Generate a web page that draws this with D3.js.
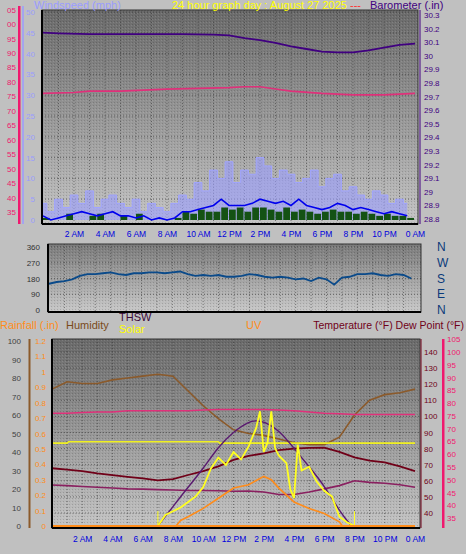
<!DOCTYPE html>
<html><head><meta charset="utf-8">
<script src="https://cdn.jsdelivr.net/npm/d3@7/dist/d3.min.js"></script>
<style>body{margin:0;background:#c0c0c0}svg{display:block;font-family:"Liberation Sans",Arial,sans-serif}</style>
</head><body><svg id="c" width="466" height="554"></svg>
<script>
// ---------- DATA ----------
const hourTicks = [2,4,6,8,10,12,14,16,18,20,22,24];
const hourLabels = ["2 AM","4 AM","6 AM","8 AM","10 AM","12 PM","2 PM","4 PM","6 PM","8 PM","10 PM","0 AM"];
const halfHours = d3.range(0,24,0.5);
const hours = d3.range(0,25,1);
const windTicks = [0,5,10,15,20,25,30,35,40,45,50];
const pinkTopTicks = [35,40,45,50,55,60,65,70,75,80,85,90,95,100,105];
const baroTicks = [28.8,28.9,29,29.1,29.2,29.3,29.4,29.5,29.6,29.7,29.8,29.9,30,30.1,30.2,30.3];
const baroHours = [0,1,3,6,9,11,12,13,14,15,16,17,18,19,20,21,22,23,24];
const baroVals  = [30.17,30.165,30.16,30.16,30.16,30.155,30.15,30.13,30.115,30.095,30.07,30.05,30.03,30.025,30.025,30.04,30.06,30.08,30.09];
const pinkTopHours = [0,2,3,5,8,12,13,14,15,16,18,20,22,24];
const pinkTopVals  = [76,76.3,76.8,76.8,77.5,78,78.3,78.3,77.5,76.8,76,75.5,75.5,76];
const gustVals = [4,2,5,3,6,4,7,3,5,6,4,3,5,2,4,3,2,4,6,5,9,7,12,10,14,9,12,11,15,13,10,12,11,9,10,12,8,10,11,7,8,6,5,7,6,4,5,4];
const windVals = [1,0,0.5,1,1.5,2,1.5,1,1.5,2,1,1,0.5,1,0,0.5,0,0.5,2,2,2.5,3,3.5,5,3.5,3.5,3.5,4,5,4.5,4,4.5,3.5,5,3.5,3,2.5,3,4,3.5,2.5,3,2.5,2,1.5,2,1.5,1];
const barVals  = [0.5,0,0,1.5,0,0,1,1.5,0,0,1,0,1.5,0,0,0,0,0.5,2,1.5,2.5,2,2,3,2.5,3,2,3,3,2.5,2,3,2,2.5,2,1.5,2,2.5,2,2,1.5,2,1.5,1,1.5,1,1,0.5];
const dirTicks = [0,90,180,270,360];
const dirLetters = ["N","W","S","E","N"];
const dirVals = [150,160,165,175,195,205,205,210,215,205,200,210,210,215,215,210,215,220,205,195,200,195,200,190,190,195,205,200,190,185,190,185,175,180,165,185,175,145,185,190,205,205,210,200,195,205,200,180];
const humTicks = [0,10,20,30,40,50,60,70,80,90,100];
const rainTicks = [0,0.1,0.2,0.3,0.4,0.5,0.6,0.7,0.8,0.9,1,1.1,1.2];
const tempTicks = [40,50,60,70,80,90,100,110,120,130,140];
const dewTicks = [35,40,45,50,55,60,65,70,75,80,85,90,95,100,105];
const humVals  = [74,78,77,77,79,80,81,82,81,73,65,58,52,50,49,47,45,44,44,48,60,68,71,72,74];
const tempVals = [67.8,67,66,64.6,63.5,62.5,61.5,60.3,61,63.6,66,69,73,75.5,77,79,80,80.5,80.6,78,74.5,72.5,71.5,69,66];
const heatVals = [57.4,57,56.5,56,55.5,55,54.8,54.5,54.3,54,54,53.8,53.5,53.7,53,51.5,51.5,53,55,57,60,59,58.5,57.5,56];
const dewVals  = [76,76,76.3,76.5,76.5,77,77,77,77,77,77.3,77.5,77.5,77.5,77.5,77.3,77,76.5,76,75.8,75.5,75.5,75.5,75.5,75.5];
const flatHours = [0,1,1.1,11,11.1,24];
const flatVals  = [83.4,83.4,84.3,84.3,83.4,83.4];
const thswHours = [7,8,9,10,11,12,13,13.5,14,15,16,17,18,19,19.8];
const thswVals  = [0,10.5,21,31,43,51,56.5,57,56.5,52,42,32,22,8,0];
const solarHours = [7,7.5,8,8.5,9,9.5,10,10.5,11,11.5,12,12.5,13,13.5,13.75,14,14.25,14.5,14.75,15,15.5,15.75,16,16.25,16.5,17,17.5,18,18.5,19,19.5,20];
const solarVals  = [0,6,8,10,13,16,21,31,37,33,40,36,43,53,62,40,45,62,42,38,34,20,15,44,30,32,24,19,16,5,2,0];
const uvHours = [8.2,8.5,9,10,11,12,13,14,14.5,15,16,17,18,19,19.2];
const uvVals  = [0,3,5,9.5,15,20.5,22.3,26.8,25,20.5,13,9.5,6.7,2.3,0];

// ---------- DRAW ----------
const svg = d3.select("#c");
const defs = svg.append("defs");
function grad(id, c1, c2){
  const g = defs.append("linearGradient").attr("id",id).attr("x1",0).attr("x2",0).attr("y1",0).attr("y2",1);
  g.append("stop").attr("offset","0%").attr("stop-color",c1);
  g.append("stop").attr("offset","100%").attr("stop-color",c2);
}
grad("gTop","#6a6a6a","#c4c4c4");
grad("gMid","#7a7a7a","#c8c8c8");
grad("gBot","#6a6a6a","#c4c4c4");
const pat = defs.append("pattern").attr("id","dith").attr("width",3).attr("height",3).attr("patternUnits","userSpaceOnUse");
pat.append("rect").attr("width",1).attr("height",1).attr("fill","#000").attr("opacity",0.15);
pat.append("rect").attr("x",2).attr("y",1).attr("width",1).attr("height",1).attr("fill","#fff").attr("opacity",0.12);

function panel(x0,x1,y0,y1,gid){
  svg.append("rect").attr("x",x0).attr("y",y0).attr("width",x1-x0).attr("height",y1-y0).attr("fill",`url(#${gid})`);
  svg.append("rect").attr("x",x0).attr("y",y0).attr("width",x1-x0).attr("height",y1-y0).attr("fill","url(#dith)");
}
function frame(x0,x1,y0,y1){
  svg.append("rect").attr("x",x0).attr("y",y0).attr("width",x1-x0).attr("height",y1-y0).attr("fill","none").attr("stroke","#333").attr("stroke-width",1);
  svg.append("line").attr("x1",x0).attr("x2",x0).attr("y1",y0).attr("y2",y1).attr("stroke","#000").attr("stroke-width",2);
  svg.append("line").attr("x1",x0).attr("x2",x1).attr("y1",y1).attr("y2",y1).attr("stroke","#000").attr("stroke-width",2);
}
function grid(x, ys, xL, xR, yT, yB){
  const g = svg.append("g").attr("stroke","#3a3a3a").attr("stroke-dasharray","1,2").attr("opacity",0.6);
  d3.range(1,24).forEach(h=>g.append("line").attr("x1",x(h)).attr("x2",x(h)).attr("y1",yT).attr("y2",yB));
  ys.forEach(y=>g.append("line").attr("x1",xL).attr("x2",xR).attr("y1",y).attr("y2",y));
}
function xAxis(x, y, color){
  const ax = d3.axisBottom(x).tickValues(hourTicks).tickFormat((d,i)=>hourLabels[i]).tickSize(0).tickPadding(4);
  const g = svg.append("g").attr("transform",`translate(0,${y})`).call(ax);
  g.select(".domain").remove();
  g.selectAll("text").attr("fill",color).attr("font-size",8.5).attr("font-family","Liberation Sans, Arial");
}
function yLabels(scale, ticks, x, color, anchor, fmt){
  const ax = (anchor==="end"? d3.axisLeft(scale) : d3.axisRight(scale)).tickValues(ticks).tickSize(0).tickPadding(0).tickFormat(fmt||(d=>d));
  const g = svg.append("g").attr("transform",`translate(${x},0)`).call(ax);
  g.select(".domain").remove();
  g.selectAll("text").attr("fill",color).attr("font-size",8).attr("font-family","Liberation Sans, Arial");
  return g;
}
const ln = (x,y)=>d3.line().x(d=>x(d[0])).y(d=>y(d[1]));
const zip=(a,b)=>a.map((v,i)=>[v,b[i]]);

// ===== TOP PANEL =====
const tx = d3.scaleLinear().domain([0,24]).range([43,415]);
const wy = d3.scaleLinear().domain([0,50]).range([220,12]);
const py = d3.scaleLinear().domain([35,100]).range([212,24]);
const by = d3.scaleLinear().domain([28.8,30.3]).range([219,15]);
panel(42,418,10,224,"gTop");
grid(tx, windTicks.slice(1).map(wy), 42,418,10,224);
// gust
svg.append("path").datum(zip(halfHours,gustVals)).attr("d",d3.area().x(d=>tx(d[0])).y0(wy(0)).y1(d=>wy(d[1])).curve(d3.curveStep))
  .attr("fill","#9a9cff").attr("opacity",0.6);
svg.append("path").datum(zip(halfHours,gustVals)).attr("d",ln(tx,wy).curve(d3.curveStep)).attr("fill","none").attr("stroke","#a0a4ff").attr("stroke-width",1);
// green bars
svg.append("g").selectAll("rect").data(zip(halfHours,barVals)).join("rect")
  .attr("x",d=>tx(d[0])).attr("width",tx(0.5)-tx(0)-1).attr("y",d=>wy(d[1])).attr("height",d=>wy(0)-wy(d[1]))
  .attr("fill","#145214");
svg.append("path").datum(zip(halfHours,windVals)).attr("d",ln(tx,wy)).attr("fill","none").attr("stroke","#0000ee").attr("stroke-width",1.6);
svg.append("path").datum(zip(pinkTopHours,pinkTopVals)).attr("d",ln(tx,py)).attr("fill","none").attr("stroke","#e0307a").attr("stroke-width",1.6);
svg.append("path").datum(zip(baroHours,baroVals)).attr("d",ln(tx,by)).attr("fill","none").attr("stroke","#400080").attr("stroke-width",1.8);
frame(42,418,10,224);
xAxis(tx,227,"#0000dd");
// left axes
svg.append("rect").attr("x",18).attr("y",6).attr("width",2.5).attr("height",218).attr("fill","#f0186e");
svg.append("line").attr("x1",23).attr("x2",23).attr("y1",6).attr("y2",224).attr("stroke","#9a9cff").attr("stroke-width",1.5);
yLabels(py,pinkTopTicks,16,"#f0186e","end",d=>String(d).slice(-2));
yLabels(wy,windTicks,35,"#9a9cff","end");
svg.append("line").attr("x1",420).attr("x2",420).attr("y1",10).attr("y2",224).attr("stroke","#400080").attr("stroke-width",1);
yLabels(by,baroTicks,424,"#400080","start",d=>d3.format("")(+d.toFixed(1)));
svg.append("text").attr("x",34).attr("y",9).attr("fill","#9a9cff").attr("font-size",11).text("Windspeed (mph)");
svg.append("text").attr("x",370).attr("y",9).attr("fill","#400080").attr("font-size",11).text("Barometer (.in)");
svg.append("text").attr("x",172).attr("y",9).attr("fill","#ffff00").attr("font-size",11).text("24 hour graph day : August 27 2025");
svg.append("text").attr("x",350).attr("y",9).attr("fill","#ff3030").attr("font-size",11).text("---");

// ===== MIDDLE PANEL =====
const mx = d3.scaleLinear().domain([0,24]).range([49,419]);
const dy = d3.scaleLinear().domain([0,360]).range([310,247]);
panel(48,421,244,312,"gMid");
grid(mx,[90,180,270,360].map(dy),48,421,244,312);
svg.append("path").datum(zip(halfHours,dirVals)).attr("d",ln(mx,dy)).attr("fill","none").attr("stroke","#0a4a8a").attr("stroke-width",1.8);
frame(48,421,244,312);
yLabels(dy,dirTicks,40,"#333","end");
dirLetters.forEach((l,i)=>svg.append("text").attr("x",437).attr("y",dy(dirTicks[4-i])+4).attr("fill","#0a3a7a").attr("font-size",12).text(l));

// ===== BOTTOM PANEL =====
const bx = d3.scaleLinear().domain([0,24]).range([52,415]);
const hy = d3.scaleLinear().domain([0,100]).range([526,341]);
const ry = d3.scaleLinear().domain([0,1.2]).range([526,341]);
const ty = d3.scaleLinear().domain([40,140]).range([513,352]);
const dwy = d3.scaleLinear().domain([35,100]).range([518,352]);
panel(52,420,339,528,"gBot");
grid(bx, tempTicks.map(ty), 52,420,339,528);
svg.append("path").datum(zip(hours,humVals)).attr("d",ln(bx,hy)).attr("fill","none").attr("stroke","#8b5a2b").attr("stroke-width",1.6);
svg.append("path").datum(zip(hours,dewVals)).attr("d",ln(bx,dwy)).attr("fill","none").attr("stroke","#e0307a").attr("stroke-width",1.6);
svg.append("path").datum(zip(flatHours,flatVals)).attr("d",ln(bx,ty)).attr("fill","none").attr("stroke","#f0f020").attr("stroke-width",1.6);
svg.append("path").datum(zip(hours,heatVals)).attr("d",ln(bx,ty)).attr("fill","none").attr("stroke","#8a2060").attr("stroke-width",1.6);
svg.append("path").datum(zip(hours,tempVals)).attr("d",ln(bx,ty)).attr("fill","none").attr("stroke","#700018").attr("stroke-width",1.8);
svg.append("path").datum(zip(uvHours,uvVals)).attr("d",ln(bx,hy)).attr("fill","none").attr("stroke","#ff8c1a").attr("stroke-width",1.6);
svg.append("path").datum(zip(thswHours,thswVals)).attr("d",ln(bx,hy).curve(d3.curveBasis)).attr("fill","none").attr("stroke","#5a1a70").attr("stroke-width",1.4);
svg.append("path").datum(zip(solarHours,solarVals)).attr("d",ln(bx,hy)).attr("fill","none").attr("stroke","#ffff20").attr("stroke-width",1.8);
[7,20].forEach(h=>svg.append("line").attr("x1",bx(h)).attr("x2",bx(h)).attr("y1",hy(0)).attr("y2",hy(8)).attr("stroke","#ffff20").attr("stroke-width",1));
svg.append("path").datum([[0,0],[24,0]]).attr("d",ln(bx,ry)).attr("fill","none").attr("stroke","#ff8c1a").attr("stroke-width",2);
frame(52,420,339,528);
xAxis(bx,532,"#0000dd");
svg.append("rect").attr("x",28.5).attr("y",339).attr("width",2).attr("height",189).attr("fill","#8b5a2b");
yLabels(hy,humTicks,21,"#404040","end");
yLabels(ry,rainTicks,46,"#ff8c1a","end",d=>d3.format("")(+d.toFixed(1)));
svg.append("line").attr("x1",421).attr("x2",421).attr("y1",339).attr("y2",528).attr("stroke","#700018").attr("stroke-width",1);
yLabels(ty,tempTicks,424,"#700018","start");
svg.append("rect").attr("x",442).attr("y",339).attr("width",2.5).attr("height",189).attr("fill","#f0186e");
yLabels(dwy,dewTicks,447,"#f0186e","start");
svg.append("text").attr("x",0).attr("y",329).attr("fill","#ff8c1a").attr("font-size",11).text("Rainfall (.in)");
svg.append("text").attr("x",66).attr("y",329).attr("fill","#7a4a1a").attr("font-size",11).text("Humidity");
svg.append("text").attr("x",119).attr("y",321).attr("fill","#3a0a3a").attr("font-size",11).text("THSW");
svg.append("text").attr("x",119).attr("y",333).attr("fill","#ffff00").attr("font-size",11).text("Solar");
svg.append("text").attr("x",246).attr("y",329).attr("fill","#ff8c1a").attr("font-size",11).text("UV");
svg.append("text").attr("x",464).attr("y",329).attr("text-anchor","end").attr("fill","#700018").attr("font-size",10.5).text("Temperature (°F) Dew Point (°F)");
</script></body></html>
